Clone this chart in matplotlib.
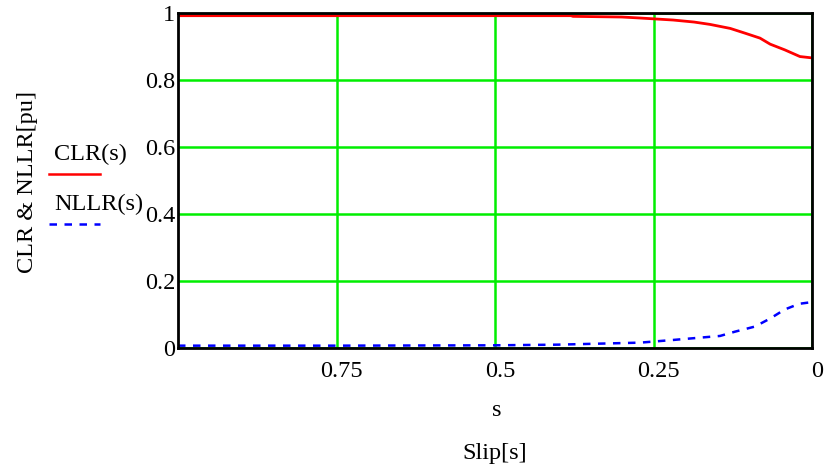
import matplotlib
matplotlib.use("Agg")
import matplotlib.pyplot as plt
from matplotlib.lines import Line2D
from matplotlib.transforms import ScaledTranslation

plt.rcParams['font.family'] = ['Liberation Serif', 'DejaVu Serif']

# Data (slip s, per-unit values)
s_clr = [1.0, 0.5, 0.38, 0.377, 0.30, 0.271, 0.219, 0.186, 0.161, 0.129, 0.106, 0.082, 0.066, 0.043, 0.019, 0.0]
clr   = [0.992, 0.992, 0.992, 0.990, 0.988, 0.985, 0.979, 0.973, 0.966, 0.954, 0.940, 0.925, 0.907, 0.890, 0.870, 0.866]

s_nllr = [1.0, 0.75, 0.5, 0.40, 0.271, 0.219, 0.145, 0.121, 0.090, 0.066, 0.043, 0.020, 0.0]
nllr   = [0.007, 0.007, 0.008, 0.010, 0.016, 0.024, 0.036, 0.049, 0.064, 0.088, 0.115, 0.132, 0.137]

xticks = [0.75, 0.5, 0.25, 0.0]
xticklabels = ["0.75", "0.5", "0.25", "0"]
yticks = [0, 0.2, 0.4, 0.6, 0.8, 1]
yticklabels = ["0", "0.2", "0.4", "0.6", "0.8", "1"]

FS = 17.5

fig = plt.figure(figsize=(8.26, 4.73), dpi=100)
ax = fig.add_axes([178/826, 1 - 348/473, (812 - 178)/826, (348 - 13)/473])

ax.plot(s_clr, clr, color='#ff0000', lw=2, zorder=3)
ax.plot(s_nllr, nllr, color='#0000ff', lw=1.8, ls=(0, (3, 3)), zorder=3)

ax.set_xlim(1, 0)
ax.set_ylim(0, 1)
ax.set_xticks(xticks)
ax.set_xticklabels(xticklabels)
ax.set_yticks(yticks)
ax.set_yticklabels(yticklabels)
ax.tick_params(length=0, labelsize=FS)
ax.tick_params(axis='y', pad=2)
ax.tick_params(axis='x', pad=9)
off = ScaledTranslation(5/100, 0, fig.dpi_scale_trans)
for lab in ax.get_xticklabels():
    lab.set_transform(lab.get_transform() + off)
ax.grid(True, color='#00ee00', lw=1.8, zorder=1)
ax.set_axisbelow(True)
for sp in ax.spines.values():
    sp.set_linewidth(2)
    sp.set_color('black')
    sp.set_zorder(4)

fig.text(497/826, 1 - 410/473, "s", ha='center', va='center', fontsize=FS)
fig.text(495/826, 1 - 453/473, "Slip[s]", ha='center', va='center', fontsize=FS)
fig.text(28/826, 1 - 182/473, "CLR & NLLR[pu]", rotation=90, ha='center', va='center', fontsize=FS)

# legend
fig.text(54/826, 1 - 154/473, "CLR(s)", ha='left', va='center', fontsize=FS)
fig.add_artist(Line2D([49/826, 100/826], [1 - 174/473, 1 - 174/473], color='#ff0000', lw=1.8))
fig.text(54/826, 1 - 204/473, "NLLR(s)", ha='left', va='center', fontsize=FS)
fig.add_artist(Line2D([49/826, 100/826], [1 - 224/473, 1 - 224/473], color='#0000ff', lw=1.8, ls=(0, (3, 3))))

fig.savefig("out.png", dpi=100, facecolor='white')
